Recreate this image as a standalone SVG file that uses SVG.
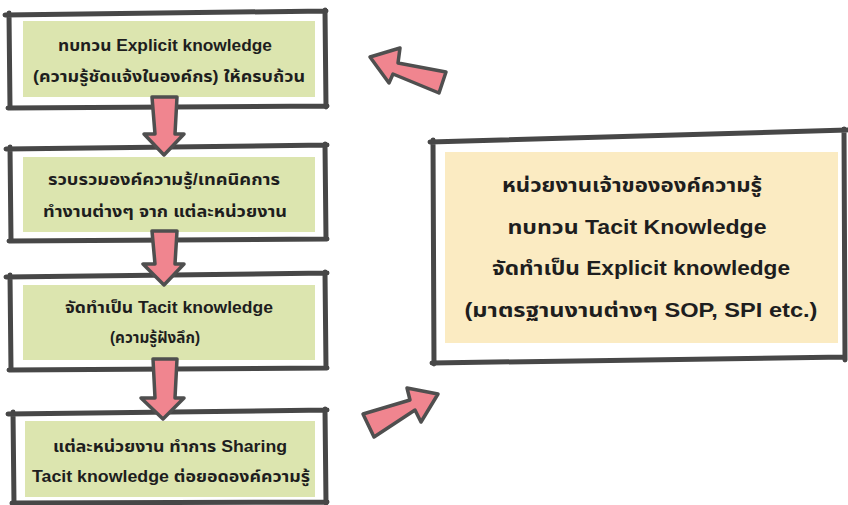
<svg xmlns="http://www.w3.org/2000/svg" width="848" height="505" viewBox="0 0 848 505">
<style>
.frame{fill:none;stroke:#474747;stroke-width:5;stroke-linecap:round;stroke-linejoin:round}
.green{fill:#DCE5AF}
.yellow{fill:#FBEBC2}
.arrow{fill:#F0858F;stroke:#4F4F4F;stroke-width:3.5;stroke-linejoin:round}
.t{font-family:"Liberation Sans","Noto Sans Thai","Noto Sans",sans-serif;font-weight:bold;fill:#1E1E1E;text-anchor:middle}
.s{font-size:16px}
.b{font-size:20px}
</style>
<rect width="848" height="505" fill="#FFFFFF"/>
<g id="node1">
<rect class="green" x="23" y="21" width="292" height="76"/>
<path class="frame" d="M5,15 L326,11 M9,13 L10,108 M325,10 L326,107 M8,108 L327,106"/>
<text class="t s" x="165" y="51" textLength="214" lengthAdjust="spacingAndGlyphs">ทบทวน Explicit knowledge</text>
<text class="t s" x="169" y="82" textLength="272" lengthAdjust="spacingAndGlyphs">(ความรู้ชัดแจ้งในองค์กร) ให้ครบถ้วน</text>
</g>
<g id="node2">
<rect class="green" x="23" y="157" width="292" height="75"/>
<path class="frame" d="M6,149 L327,145 M10,147 L11,241 M325,144 L326,239 M9,241 L327,239"/>
<text class="t s" x="164" y="185" textLength="232" lengthAdjust="spacingAndGlyphs">รวบรวมองค์ความรู้/เทคนิคการ</text>
<text class="t s" x="165" y="217" textLength="244" lengthAdjust="spacingAndGlyphs">ทำงานต่างๆ จาก แต่ละหน่วยงาน</text>
</g>
<g id="node3">
<rect class="green" x="23" y="285" width="292" height="75"/>
<path class="frame" d="M6,277 L327,273 M10,275 L11,370 M325,272 L326,368 M9,370 L327,368"/>
<text class="t s" x="169" y="313" textLength="208" lengthAdjust="spacingAndGlyphs">จัดทำเป็น Tacit knowledge</text>
<text class="t s" x="155" y="343" textLength="90" lengthAdjust="spacingAndGlyphs">(ความรู้ฝังลึก)</text>
</g>
<g id="node4">
<rect class="green" x="25" y="421" width="290" height="76"/>
<path class="frame" d="M8,414 L327,410 M13,412 L14,504 M325,409 L326,503 M12,503 L327,502"/>
<text class="t s" x="170" y="452" textLength="234" lengthAdjust="spacingAndGlyphs">แต่ละหน่วยงาน ทำการ Sharing</text>
<text class="t s" x="171" y="482" textLength="278" lengthAdjust="spacingAndGlyphs">Tacit knowledge ต่อยอดองค์ความรู้</text>
</g>
<g id="node5">
<rect class="yellow" x="445" y="152" width="393" height="191"/>
<path class="frame" d="M430,142 L847,130 M433,140 L434,364 M844,129 L845,360 M432,363 L845,357"/>
<text class="t b" x="632" y="192" textLength="260" lengthAdjust="spacingAndGlyphs">หน่วยงานเจ้าขององค์ความรู้</text>
<text class="t b" x="637" y="234" textLength="259" lengthAdjust="spacingAndGlyphs">ทบทวน Tacit Knowledge</text>
<text class="t b" x="641" y="275" textLength="298" lengthAdjust="spacingAndGlyphs">จัดทำเป็น Explicit knowledge</text>
<text class="t b" x="641" y="317" textLength="353" lengthAdjust="spacingAndGlyphs">(มาตรฐานงานต่างๆ SOP, SPI etc.)</text>
</g>
<g id="connectors">
<path class="arrow" d="M152,97 L177,97 L175,134 L184,134 L164,155 L144,134 L155,134 Z"/>
<path class="arrow" d="M152,231 L177,231 L175,264 L184,264 L164,285 L143,264 L155,264 Z"/>
<path class="arrow" d="M153,359 L177,359 L175,398 L184,398 L163,419 L141,398 L155,398 Z"/>
<path class="arrow" d="M370,57 L400,48 L398,63 L446,72 L439,93 L393,74 L389,83 Z"/>
<path class="arrow" d="M363,414 L410,400 L407,388 L438,394 L421,422 L415,410 L374,437 Z"/>
</g>
</svg>
